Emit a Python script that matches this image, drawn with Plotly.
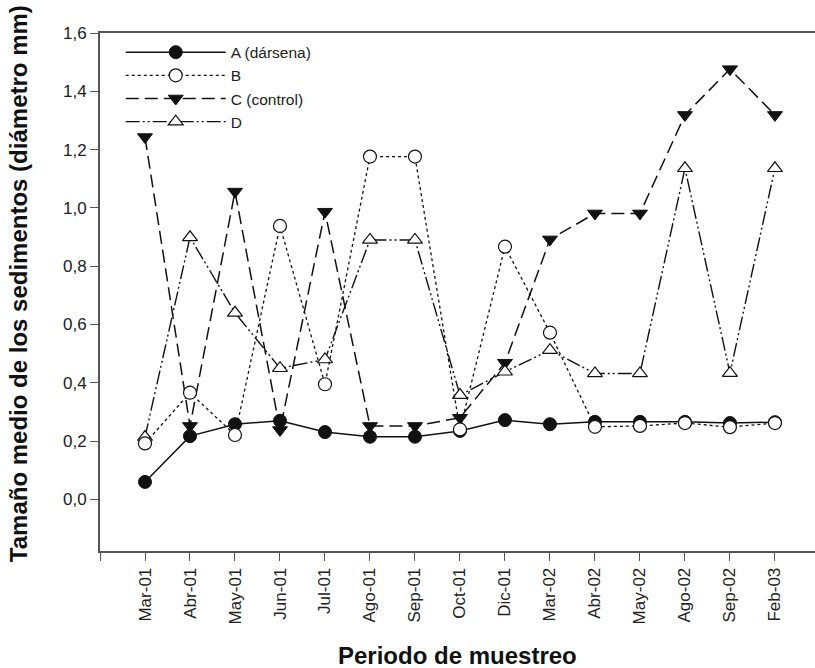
import plotly.graph_objects as go

# Sampling periods (x axis categories)
periodos = ["Mar-01", "Abr-01", "May-01", "Jun-01", "Jul-01", "Ago-01", "Sep-01",
            "Oct-01", "Dic-01", "Mar-02", "Abr-02", "May-02", "Ago-02", "Sep-02", "Feb-03"]

# Mean sediment grain size (mm) per station
est_a = [0.060, 0.217, 0.258, 0.270, 0.231, 0.215, 0.215, 0.235, 0.272, 0.258,
         0.266, 0.266, 0.266, 0.262, 0.265]
est_b = [0.192, 0.366, 0.221, 0.938, 0.395, 1.176, 1.176, 0.240, 0.867, 0.572,
         0.249, 0.252, 0.262, 0.248, 0.262]
est_c = [1.243, 0.252, 1.056, 0.238, 0.987, 0.252, 0.252, 0.280, 0.469, 0.892,
         0.981, 0.981, 1.319, 1.476, 1.319]
est_d = [0.214, 0.899, 0.640, 0.450, 0.480, 0.890, 0.890, 0.358, 0.438, 0.512,
         0.432, 0.432, 1.136, 0.433, 1.136]

y_ticks = [0.0, 0.2, 0.4, 0.6, 0.8, 1.0, 1.2, 1.4, 1.6]

idx = list(range(len(periodos)))
FONT = "Liberation Sans, Arial, sans-serif"
INK = "#111111"
AXIS = "#555555"

fig = go.Figure()

fig.add_trace(go.Scatter(
    x=idx, y=est_c, name="C (control)", legendrank=3, mode="lines+markers",
    line=dict(color=INK, width=1.5, dash="13px,6px"),
    marker=dict(symbol="triangle-down", size=13, color=INK, line=dict(color=INK, width=1)),
))
fig.add_trace(go.Scatter(
    x=idx, y=est_a, name="A (dársena)", legendrank=1, mode="lines+markers",
    line=dict(color=INK, width=1.5),
    marker=dict(symbol="circle", size=13, color=INK, line=dict(color=INK, width=1)),
))
fig.add_trace(go.Scatter(
    x=idx, y=est_d, name="D", legendrank=4, mode="lines+markers",
    line=dict(color=INK, width=1.4, dash="14px,3px,2px,3px,2px,3px"),
    marker=dict(symbol="triangle-up", size=13, color="white", line=dict(color=INK, width=1.2)),
))
fig.add_trace(go.Scatter(
    x=idx, y=est_b, name="B", legendrank=2, mode="lines+markers",
    line=dict(color=INK, width=1.3, dash="dot"),
    marker=dict(symbol="circle", size=13, color="white", line=dict(color=INK, width=1.2)),
))

fig.update_layout(
    width=815, height=668,
    margin=dict(l=100, r=0, t=33, b=117),
    plot_bgcolor="white", paper_bgcolor="white",
    separators=",.",
    font=dict(family=FONT, size=17, color="#222222"),
    showlegend=True,
    legend=dict(
        x=0.029, y=0.995, xanchor="left", yanchor="top",
        bgcolor="rgba(0,0,0,0)", borderwidth=0,
        font=dict(family=FONT, size=15.5, color="#222222"),
        itemwidth=100, traceorder="normal", tracegroupgap=0,
    ),
    xaxis=dict(
        range=[-1, 14.89],
        tickvals=[-1] + idx, ticktext=[""] + periodos,
        tickangle=-90,
        ticks="outside", ticklen=8, tickwidth=1.3, tickcolor=AXIS,
        showline=True, linecolor=AXIS, linewidth=1.8, mirror=True,
        showgrid=False, zeroline=False,
        tickfont=dict(family=FONT, size=17, color="#222222"),
    ),
    yaxis=dict(
        range=[-0.177, 1.6],
        tickvals=y_ticks, tickformat=".1f",
        ticks="outside", ticklen=8, tickwidth=1.3, tickcolor=AXIS,
        showline=True, linecolor=AXIS, linewidth=1.8,
        showgrid=False, zeroline=False,
        tickfont=dict(family=FONT, size=17, color="#222222"),
    ),
)

fig.add_annotation(
    text="Tamaño medio de los sedimentos (diámetro mm)",
    xref="paper", yref="paper", x=-0.1147, y=0.517,
    xanchor="center", yanchor="middle", textangle=-90, showarrow=False,
    font=dict(family=FONT, size=24, color=INK, weight="bold"),
)
fig.add_annotation(
    text="Periodo de muestreo",
    xref="paper", yref="paper", x=0.5, y=-0.2008,
    xanchor="center", yanchor="middle", showarrow=False,
    font=dict(family=FONT, size=24, color=INK, weight="bold"),
)

fig.write_html("out.html")
